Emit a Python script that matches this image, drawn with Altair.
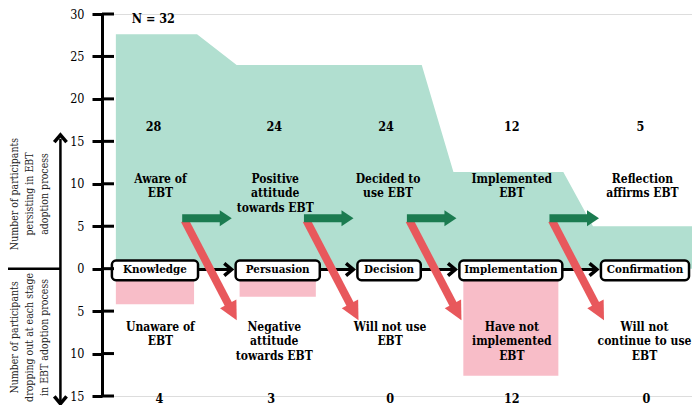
import math
import altair as alt
import pandas as pd

# ------------------------------------------------------------------ data
stages = ["Knowledge", "Persuasion", "Decision", "Implementation", "Confirmation"]
persist_counts = ["28", "24", "24", "12", "5"]
persist_band = [27.6, 24.0, 24.0, 11.4, 5.0]      # height of green band
drop_counts = ["4", "3", "0", "12", "0"]
drop_bar = [4.2, 3.3, 0.0, 12.6, 0.0]             # depth of pink bars
persist_text = ["Aware of\nEBT", "Positive\nattitude\ntowards EBT", "Decided to\nuse EBT",
                "Implemented\nEBT", "Reflection\naffirms EBT"]
drop_text = ["Unaware of\nEBT", "Negative\nattitude\ntowards EBT", "Will not use\nEBT",
             "Have not\nimplemented\nEBT", "Will not\ncontinue to use\nEBT"]
y_ticks = [-15, -10, -5, 0, 5, 10, 15, 20, 25, 30]
n_total = "N = 32"
side_top = ["Number of participants", "persisting in EBT", "adoption process"]
side_bottom = ["Number of participants", "dropping out at each stage", "in  EBT adoption process"]

# ------------------------------------------------------------------ layout (diagram geometry)
box_x = [(112, 199), (237, 322), (360, 424), (463, 567), (606, 695)]
band_x = [(116, 198), (238, 320), (320, 425), (457, 568), (598, 700)]
branch_x = [183, 306, 410, 554]
top_num_x = [154, 276, 389, 516, 646]
label_x = [161, 277, 391, 516, 648]
drop_label_x = [161, 276, 393, 516, 650]
bottom_num_x = [160, 273, 393, 516, 652]
side_x = [14, 29, 44]

W, H = 590, 382
X0, X1 = 102, 698
Y0, Y1 = -15, 30
PX = W / (X1 - X0)
PY = H / (Y1 - Y0)

GREEN_BG = "#b1dfd0"
GREEN = "#1b7b50"
RED = "#e8585c"
PINK = "#f8bdc8"
SERIF = "DejaVu Serif Condensed"

xs = alt.Scale(domain=[X0, X1], nice=False, zero=False)
ys = alt.Scale(domain=[Y0, Y1], nice=False, zero=False)
yaxis = alt.Axis(values=y_ticks, labelExpr="'' + abs(datum.value)", title=None, grid=False,
                 domainColor="black", domainWidth=3, tickColor="black", tickWidth=3,
                 tickSize=10, labelFont=SERIF, labelFontSize=12.5, labelColor="black",
                 labelPadding=8, labelFlush=False, labelOverlap=False)


def X(f="x"):
    return alt.X(f, type="quantitative", scale=xs, axis=None)


def Y(f="y"):
    return alt.Y(f, type="quantitative", scale=ys, axis=yaxis)


def rules(rows, color, width, cap="butt"):
    df = pd.DataFrame(rows, columns=["x", "y", "x2", "y2"])
    return alt.Chart(df).mark_rule(color=color, strokeWidth=width, strokeCap=cap).encode(
        x=X(), y=Y(), x2="x2:Q", y2="y2:Q")


# green band of persisting participants
area_rows = []
for (a, b), h in zip(band_x, persist_band):
    area_rows += [(a, h), (b, h)]
area_df = pd.DataFrame(area_rows, columns=["x", "y"])
area_df["y0"] = 0.0
area = alt.Chart(area_df).mark_area(color=GREEN_BG, opacity=1, interpolate="linear").encode(
    x=X(), y=Y(), y2="y0:Q")

# pink drop-out bars
pink_df = pd.DataFrame([(box_x[i][0] + 4, box_x[i][1] - 4, 0.0, -drop_bar[i])
                        for i in range(len(stages)) if drop_bar[i] > 0],
                       columns=["x", "x2", "y", "y2"])
pink = alt.Chart(pink_df).mark_rect(color=PINK, opacity=1).encode(
    x=X(), x2="x2:Q", y=Y(), y2="y2:Q")

# side guide: horizontal line and double arrow
LINE_Y = -0.1
side_lines = rules([(-10, 0, 60, 0), (60, 15.3, 60, -15.6)], "black", 2.5)
chev = "M-0.8,-1 L0.4,0 L-0.8,1"
side_heads_df = pd.DataFrame([(60, 15.85 - 3.2 / PY, 270), (60, -16.0 + 3.2 / PY, 90)],
                             columns=["x", "y", "ang"])
side_heads = alt.Chart(side_heads_df).mark_point(
    shape=chev, filled=False, size=150, strokeWidth=3.5, color="black", opacity=1,
    strokeJoin="miter").encode(x=X(), y=Y(), angle=alt.Angle("ang:Q", scale=None))

# black connectors between stage boxes
conn = rules([(box_x[i][1], LINE_Y, box_x[i + 1][0] - 4, LINE_Y) for i in range(4)], "black", 3)
chev_df = pd.DataFrame([(box_x[i + 1][0] - 6.5 / PX, LINE_Y) for i in range(4)], columns=["x", "y"])
chevrons = alt.Chart(chev_df).mark_point(
    shape=chev, filled=False, size=150, strokeWidth=3.5, color="black", opacity=1,
    strokeJoin="miter").encode(x=X(), y=Y())

# stage boxes
box_df = pd.DataFrame([(a, b, 0.95, -1.35) for a, b in box_x], columns=["x", "x2", "y", "y2"])
boxes = alt.Chart(box_df).mark_rect(fill="white", stroke="black", strokeWidth=2.5,
                                    cornerRadius=4).encode(x=X(), x2="x2:Q", y=Y(), y2="y2:Q")
box_txt_df = pd.DataFrame({"x": [(a + b) / 2 for a, b in box_x], "y": [-0.2] * 5, "t": stages})
box_txt = alt.Chart(box_txt_df).mark_text(font=SERIF, fontWeight="bold", fontSize=11.5,
                                          baseline="middle", align="center", color="black").encode(
    x=X(), y=Y(), text="t:N")

# red (drop-out) and green (persist) arrows
ARROW_Y = 5.93
RED_END_Y = -6.05
red_rows, red_heads = [], []
for x0 in branch_x:
    sx, sy = x0 + 2.5, ARROW_Y - 0.25
    tx, ty = x0 + 55, RED_END_Y
    dxp, dyp = (tx - sx) * PX, (sy - ty) * PY
    L = math.hypot(dxp, dyp)
    ux, uy = dxp / L, dyp / L
    ex, ey = tx - 12 * ux / PX, ty + 12 * uy / PY
    hx, hy = tx - 9 * ux / PX, ty + 9 * uy / PY
    red_rows.append((sx, sy, ex, ey))
    red_heads.append((hx, hy))
red_angle = math.degrees(math.atan2(dyp, dxp))
red = rules(red_rows, RED, 8)
red_head = alt.Chart(pd.DataFrame(red_heads, columns=["x", "y"])).mark_point(
    shape="M-1,-1 L1,0 L-1,1 Z", filled=True, size=340, color=RED, opacity=1,
    angle=red_angle).encode(x=X(), y=Y())

green = rules([(x0, ARROW_Y, x0 + 39, ARROW_Y) for x0 in branch_x], GREEN, 8)
green_head = alt.Chart(pd.DataFrame([(x0 + 44, ARROW_Y) for x0 in branch_x], columns=["x", "y"])).mark_point(
    shape="M-0.75,-1 L0.75,0 L-0.75,1 Z", filled=True, size=256, color=GREEN, opacity=1).encode(
    x=X(), y=Y())

# inward half of the axis ticks
in_ticks = rules([(X0, v, X0 + 12 / PX, v) for v in y_ticks], "black", 3)

# text labels
bold = dict(font=SERIF, fontWeight="bold", fontSize=12, color="black", lineBreak="\n",
            lineHeight=14.5, baseline="alphabetic")
num = dict(bold, fontSize=12.5)
top_nums = alt.Chart(pd.DataFrame({"x": top_num_x, "y": [16.2] * 5, "t": persist_counts})).mark_text(
    align="center", **num).encode(x=X(), y=Y(), text="t:N")
top_lbl = alt.Chart(pd.DataFrame({"x": label_x, "y": [10.1] * 5, "t": persist_text})).mark_text(
    align="center", **bold).encode(x=X(), y=Y(), text="t:N")
bot_lbl = alt.Chart(pd.DataFrame({"x": drop_label_x, "y": [-7.3] * 5, "t": drop_text})).mark_text(
    align="center", **bold).encode(x=X(), y=Y(), text="t:N")
bot_nums = alt.Chart(pd.DataFrame({"x": bottom_num_x, "y": [-15.8] * 5, "t": drop_counts})).mark_text(
    align="center", **num).encode(x=X(), y=Y(), text="t:N")
ntxt = alt.Chart(pd.DataFrame({"x": [132], "y": [28.9], "t": [n_total]})).mark_text(
    align="left", **num).encode(x=X(), y=Y(), text="t:N")

side_df = pd.DataFrame({"x": side_x * 2, "y": [8.8] * 3 + [-8.1] * 3, "t": side_top + side_bottom})
side_txt = alt.Chart(side_df).mark_text(font=SERIF, fontSize=10.5, color="#222222", angle=270,
                                        align="center", baseline="middle").encode(
    x=X(), y=Y(), text="t:N")

chart = alt.layer(
    area, pink, side_lines, side_heads, conn, chevrons, boxes, box_txt,
    red, red_head, green, green_head, in_ticks,
    top_nums, top_lbl, bot_lbl, bot_nums, ntxt, side_txt,
).properties(
    width=W, height=H,
    autosize=alt.AutoSizeParams(type="none"),
    padding={"left": 94, "top": 6, "right": 0, "bottom": 9},
).configure_view(stroke=None).configure(background="white")

chart.save("out.html", embed_options={"renderer": "svg", "actions": False})
